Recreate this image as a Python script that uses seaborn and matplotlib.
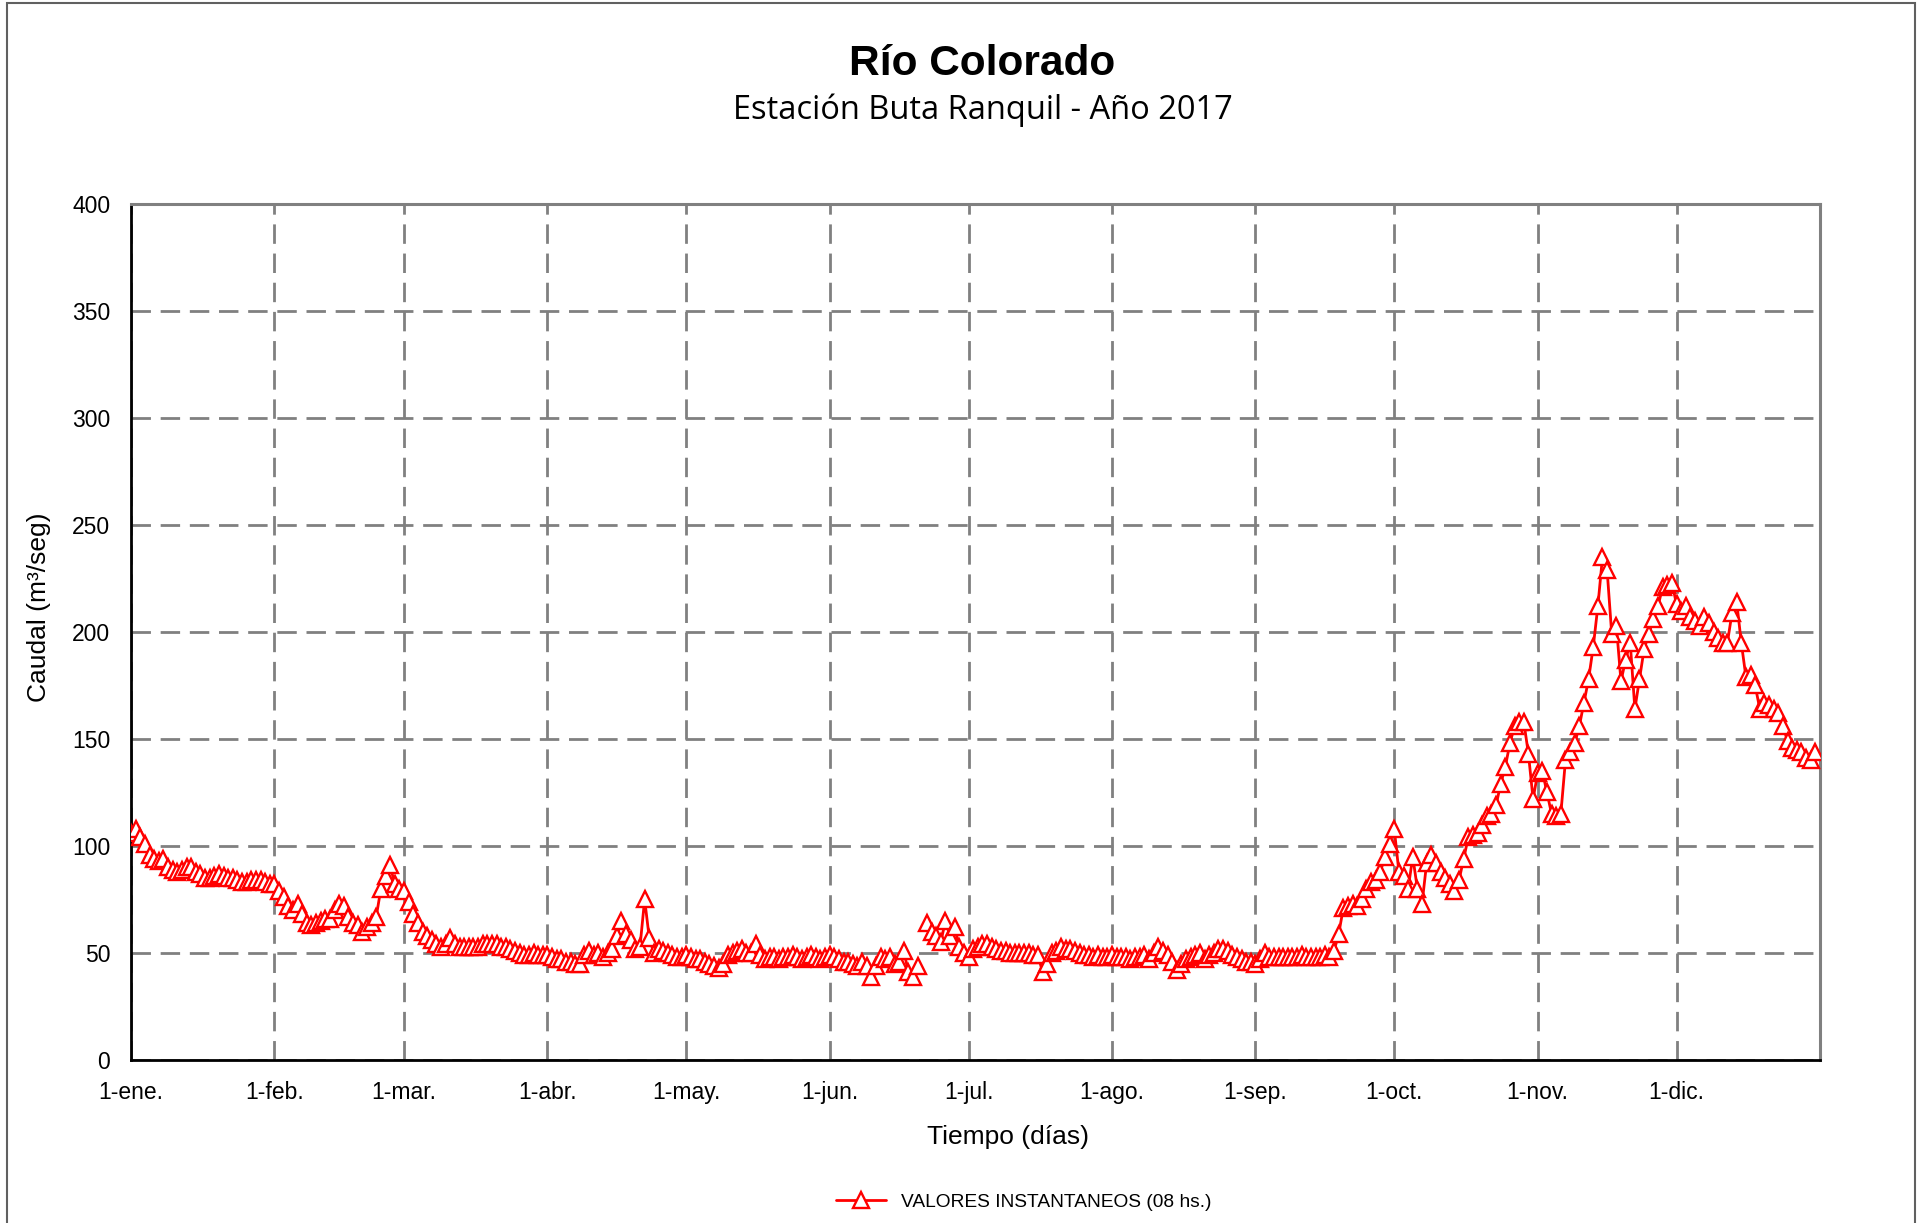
import matplotlib
matplotlib.use("Agg")
import matplotlib.pyplot as plt
from matplotlib.lines import Line2D
from matplotlib.patches import Rectangle
import numpy as np
import pandas as pd
import seaborn as sns

# caudal diario (m3/seg), un valor por dia
ene = [106, 108, 104, 101, 96, 94, 93, 94, 90, 89, 88, 89, 90, 90, 88, 87,
       85, 85, 86, 87, 86, 85, 85, 84, 83, 83, 84, 84, 84, 83, 82]
feb = [82, 79, 76, 72, 70, 73, 68, 64, 63, 64, 65, 66, 66, 70, 73, 72,
       67, 64, 63, 60, 62, 64, 67, 80, 86, 91, 82, 80]
mar = [79, 74, 68, 64, 60, 58, 56, 54, 53, 54, 57, 54, 53, 53, 53, 53,
       53, 54, 54, 54, 54, 53, 53, 52, 51, 50, 49, 49, 50, 49, 49]
abr = [49, 48, 47, 47, 46, 46, 45, 45, 49, 51, 49, 50, 48, 50, 52, 58,
       65, 59, 56, 52, 53, 75, 57, 50, 52, 51, 50, 49, 48, 48]
may = [49, 48, 47, 47, 46, 45, 44, 43, 45, 49, 50, 51, 52, 50, 50, 54,
       49, 47, 48, 48, 47, 48, 48, 49, 48, 47, 48, 49, 48, 47, 48]
jun = [49, 48, 47, 46, 46, 45, 44, 46, 44, 39, 44, 48, 47, 48, 45, 46,
       51, 41, 39, 44, np.nan, 64, 60, 58, 55, 65, 58, 62, 53, 50]
jul = [48, 52, 53, 54, 54, 53, 52, 51, 51, 50, 50, 50, 50, 50, 49, 49,
       41, 45, 50, 51, 53, 52, 52, 51, 50, 49, 49, 48, 49, 48, 48]
ago = [49, 48, 48, 48, 47, 48, 48, 49, 47, 50, 53, 51, 49, 46, 42, 45,
       47, 48, 49, 50, 47, 49, 50, 52, 52, 51, 49, 48, 47, 46, 46]
sep = [45, 47, 50, 48, 48, 48, 48, 48, 48, 48, 49, 48, 48, 48, 48, 49,
       48, 51, 59, 71, 72, 73, 72, 75, 80, 83, 84, 88, 95, 101]
oct_ = [108, 88, 86, 80, 95, 80, 73, 92, 96, 92, 88, 85, 82, 79, 84, 94,
        104, 105, 106, 110, 114, 115, 119, 129, 137, 148, 156, 158, 158, 143, 122]
nov = [134, 135, 125, 115, 114, 115, 140, 144, 148, 156, 167, 178, 193, 212,
       235, 229, 199, 203, 177, 187, 195, 164, 178, 192, 199, 206, 212, 221, 222, 223]
dic = [213, 210, 212, 207, 205, 203, 207, 204, 200, 197, 195, 195, 209, 214,
       195, 179, 180, 175, 164, 167, 166, 164, 162, 156, 149, 146, 145, 144,
       141, 140, 144]

meses = ["1-ene.", "1-feb.", "1-mar.", "1-abr.", "1-may.", "1-jun.",
         "1-jul.", "1-ago.", "1-sep.", "1-oct.", "1-nov.", "1-dic."]

caudal = ene + feb + mar + abr + may + jun + jul + ago + sep + oct_ + nov + dic
fechas = pd.date_range("2017-01-01", "2017-12-31", freq="D")

df = pd.DataFrame({"fecha": fechas, "caudal": caudal})
df["tramo"] = df["caudal"].isna().cumsum()   # dato faltante corta la linea
df = df.dropna()

sns.set_style("white")
plt.rcParams["font.family"] = ["Liberation Sans", "DejaVu Sans"]
plt.rcParams["text.color"] = "black"
plt.rcParams["axes.labelcolor"] = "black"

fig = plt.figure(figsize=(19.21, 12.23), dpi=100)
ax = fig.add_axes([0.0682, 0.1333, 0.8792, 0.6999])

gris = "#808080"
sns.lineplot(data=df, x="fecha", y="caudal", units="tramo", estimator=None,
             color="red", marker="^", markersize=11, markerfacecolor="white",
             markeredgecolor="red", markeredgewidth=1.7, linewidth=2,
             legend=False, ax=ax, zorder=3)

ax.set_xlim(pd.Timestamp("2017-01-01"), pd.Timestamp("2018-01-01"))
ax.set_ylim(0, 400)
ax.set_yticks(range(0, 401, 50))
ax.set_xticks(pd.date_range("2017-01-01", periods=12, freq="MS"))
ax.set_xticklabels(meses)

ax.grid(True, color=gris, linestyle=(0, (7, 3.5)), linewidth=2)
ax.tick_params(axis="both", direction="out", length=7, width=1.5, color=gris,
               labelsize=16.5, labelcolor="black")
ax.tick_params(axis="y", pad=8)
ax.tick_params(axis="x", pad=8)

for lado in ["left", "bottom"]:
    ax.spines[lado].set_color("black")
    ax.spines[lado].set_linewidth(2)
for lado in ["top", "right"]:
    ax.spines[lado].set_color(gris)
    ax.spines[lado].set_linewidth(2.2)

ax.set_xlabel("Tiempo (días)", fontsize=19, va="center")
ax.set_ylabel("Caudal (m³/seg)", fontsize=19, va="center")
ax.xaxis.set_label_coords(0.519, -0.09)
ax.yaxis.set_label_coords(-0.0545, 0.529)

fig.text(0.5115, 0.948, "Río Colorado", ha="center", va="center",
         fontsize=30.5, fontweight="bold")
fig.text(0.5115, 0.910, "Estación Buta Ranquil - Año 2017", ha="center",
         va="center", fontsize=23.5, family=["Open Sans", "DejaVu Sans"])

muestra = Line2D([], [], color="red", marker="^", markersize=11,
                 markerfacecolor="white", markeredgecolor="red",
                 markeredgewidth=1.7, linewidth=2)
fig.legend([muestra], ["VALORES INSTANTANEOS (08 hs.)"], loc="center",
           bbox_to_anchor=(0.533, 0.017), frameon=False, fontsize=13.8,
           handlelength=2.6)

fig.add_artist(Rectangle((7 / 1921, -0.01), 1908 / 1921, 1.01 - 3 / 1223,
                         transform=fig.transFigure, fill=False,
                         edgecolor="#606060", linewidth=1.5))

fig.savefig("out.png", dpi=100)
